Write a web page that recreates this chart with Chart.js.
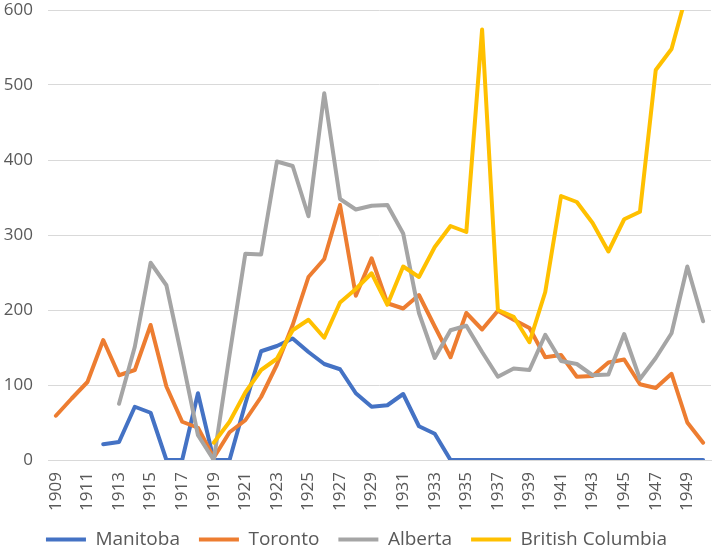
<!DOCTYPE html>
<html>
<head>
<meta charset="utf-8">
<script src="https://cdn.jsdelivr.net/npm/chart.js@4.4.1/dist/chart.umd.min.js"></script>
<style>
    html, body { margin: 0; padding: 0; background: #ffffff; }
    #wrap { width: 714px; height: 551px; }
</style>
</head>
<body>
<div id="wrap"><canvas id="chart"></canvas></div>
<script>
// Years 1909 - 1950
const years = [];
for (let y = 1909; y <= 1950; y++) years.push(String(y));

const seriesNames = ['Manitoba', 'Toronto', 'Alberta', 'British Columbia'];
const seriesColors = ['#4472C4', '#ED7D31', '#A5A5A5', '#FFC000'];

const manitoba = [null, null, null, 21, 24, 71, 63, 0, 0, 89,
    0, 0, 75, 145, 152, 162, 144, 128, 121, 89,
    71, 73, 88, 45, 35, 0, 0, 0, 0, 0,
    0, 0, 0, 0, 0, 0, 0, 0, 0, 0,
    0, 0];
const toronto = [59, 82, 104, 160, 113, 120, 180, 98, 51, 43,
    3, 37, 53, 84, 127, 180, 244, 268, 340, 219,
    269, 209, 202, 220, 178, 137, 196, 174, 199, 187,
    176, 137, 140, 111, 112, 130, 134, 101, 96, 115,
    50, 23];
const alberta = [null, null, null, null, 75, 151, 263, 233, 135, 33,
    0, 140, 275, 274, 398, 392, 325, 489, 348, 334,
    339, 340, 302, 196, 136, 173, 179, 144, 111, 122,
    120, 167, 132, 128, 113, 114, 168, 108, 136, 169,
    258, 185];
const britishColumbia = [null, null, null, null, null, null, null, null, null, null,
    23, 51, 90, 120, 135, 173, 187, 163, 210, 228,
    249, 207, 258, 244, 284, 312, 304, 574, 200, 191,
    157, 224, 352, 344, 316, 278, 321, 331, 520, 548,
    625, null];

const yTicks = [0, 100, 200, 300, 400, 500, 600];

const seriesData = [manitoba, toronto, alberta, britishColumbia];

const textColor = '#595959';
const gridColor = '#d9d9d9';
const fontFamily = "'Open Sans', 'Noto Sans', sans-serif";

const datasets = seriesNames.map((name, i) => ({
    label: name,
    data: seriesData[i],
    borderColor: seriesColors[i],
    backgroundColor: seriesColors[i],
    borderWidth: 4,
    borderJoinStyle: 'round',
    borderCapStyle: 'round',
    pointRadius: 0,
    pointHoverRadius: 0,
    tension: 0,
    order: seriesNames.length - i // later series drawn on top, like Excel
}));

const ctx = document.getElementById('chart').getContext('2d');
new Chart(ctx, {
    type: 'line',
    data: { labels: years, datasets: datasets },
    options: {
        responsive: true,
        maintainAspectRatio: false,
        animation: false,
        layout: { autoPadding: false, padding: { left: 2, right: 3, top: 10, bottom: 0 } },
        plugins: {
            tooltip: { enabled: false },
            legend: {
                position: 'bottom',
                maxHeight: 40,
                labels: {
                    color: textColor,
                    font: { family: fontFamily, size: 19 },
                    usePointStyle: true,
                    pointStyleWidth: 40,
                    pointStyle: 'line',
                    padding: 19,
                    sort: (a, b) => a.datasetIndex - b.datasetIndex
                }
            }
        },
        scales: {
            x: {
                offset: true,
                grid: { display: false, drawTicks: false },
                border: { display: true, color: gridColor, width: 1 },
                afterFit: (axis) => {
                    axis.height = 51;
                    axis.paddingLeft = 0;
                    axis.paddingRight = 0;
                },
                ticks: {
                    color: textColor,
                    font: { family: fontFamily, size: 17 },
                    autoSkip: false,
                    minRotation: 90,
                    maxRotation: 90,
                    padding: 12,
                    callback: function (value, index) {
                        return index % 2 === 0 ? this.getLabelForValue(value) : '';
                    }
                }
            },
            y: {
                min: 0,
                max: 600,
                afterBuildTicks: (axis) => { axis.ticks = yTicks.map(v => ({ value: v })); },
                afterFit: (axis) => {
                    axis.width = 46;
                    axis.paddingTop = 0;
                    axis.paddingBottom = 0;
                },
                grid: { color: gridColor, lineWidth: 1, drawTicks: false },
                border: { display: false },
                ticks: {
                    color: textColor,
                    font: { family: fontFamily, size: 17 },
                    padding: 15
                }
            }
        }
    }
});
</script>
</body>
</html>
